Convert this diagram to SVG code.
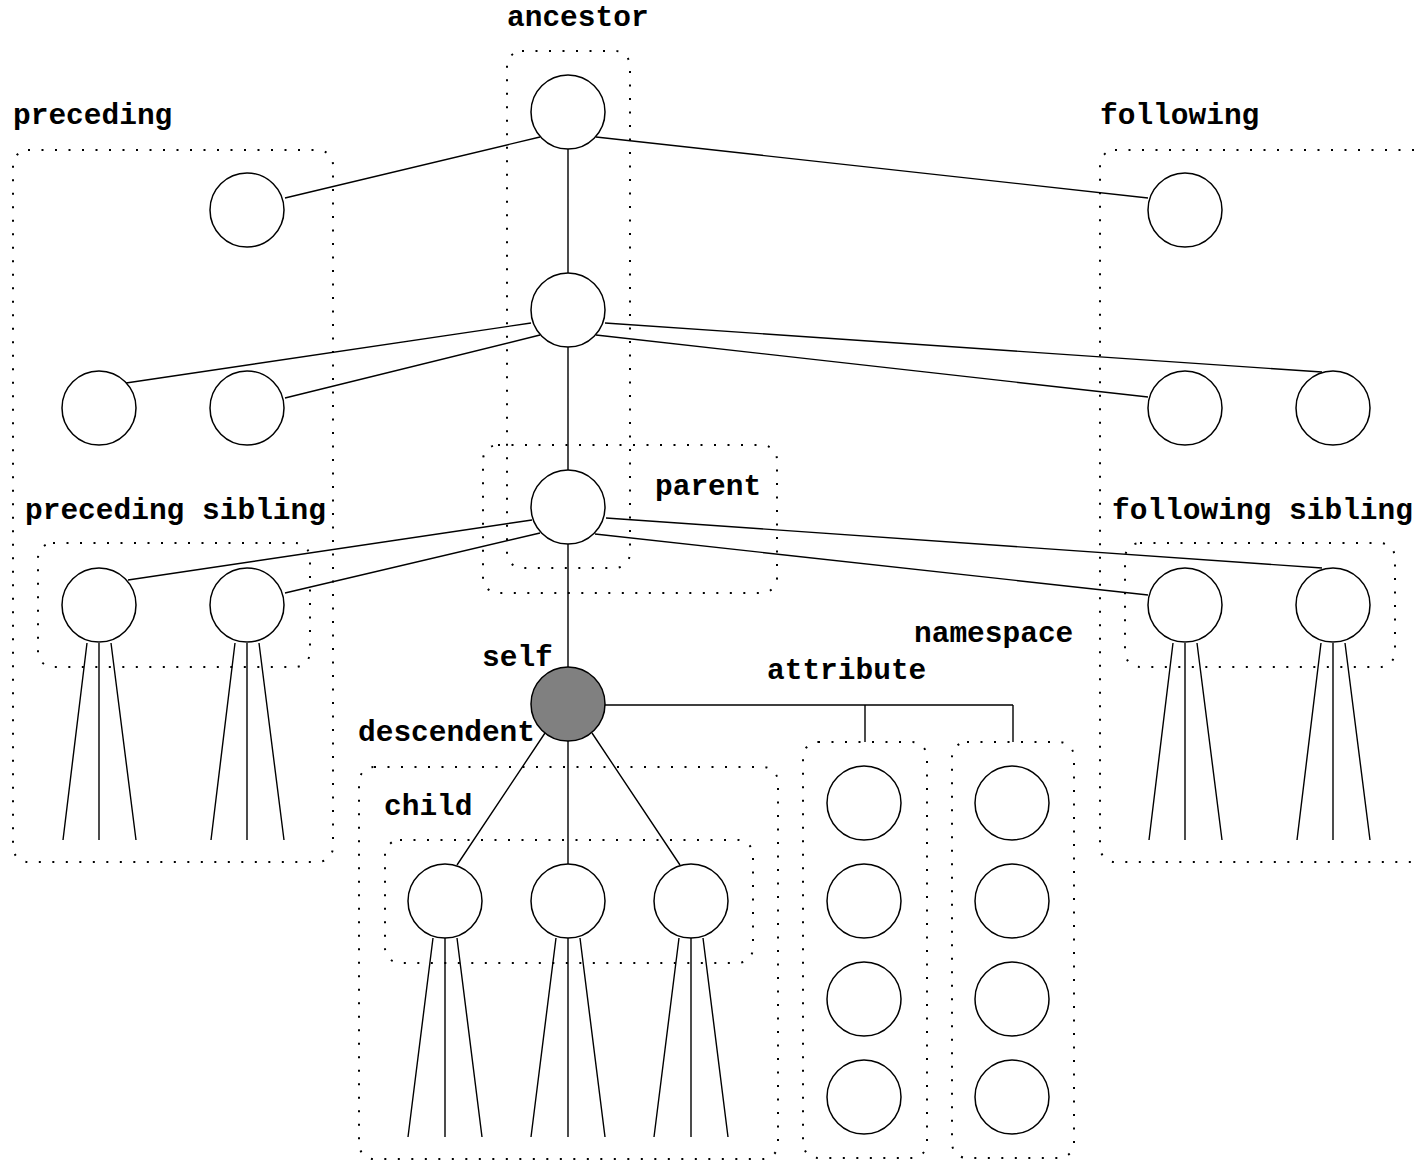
<svg xmlns="http://www.w3.org/2000/svg" width="1416" height="1161" viewBox="0 0 1416 1161">
<style>
.n{fill:#fff;stroke:#000;stroke-width:1.5}
.s{fill:#808080;stroke:#000;stroke-width:1.5}
.e{stroke:#000;stroke-width:1.4;fill:none}
.b{fill:none;stroke:#000;stroke-width:2;stroke-dasharray:2 11.5}
.t{font-family:"Liberation Mono","Courier New",monospace;font-weight:bold;font-size:29.5px;fill:#000}
</style>
<rect width="1416" height="1161" fill="#fff"/>
<g id="regions">
<rect id="box-ancestor" class="b" x="507" y="51" width="123" height="517" rx="15"/>
<rect id="box-preceding" class="b" x="13" y="150" width="320" height="712" rx="15"/>
<rect id="box-following" class="b" x="1100" y="150" width="340" height="712" rx="15"/>
<rect id="box-parent" class="b" x="483" y="445" width="294" height="148" rx="15"/>
<rect id="box-preceding-sibling" class="b" x="38" y="543" width="272" height="124" rx="15"/>
<rect id="box-following-sibling" class="b" x="1125" y="543" width="270" height="124" rx="15"/>
<rect id="box-descendent" class="b" x="359" y="767" width="419" height="392" rx="15"/>
<rect id="box-child" class="b" x="385" y="840" width="368" height="123" rx="15"/>
<rect id="box-attribute" class="b" x="803" y="742" width="124" height="416" rx="15"/>
<rect id="box-namespace" class="b" x="952" y="742" width="122" height="416" rx="15"/>
</g>
<g id="connectors">
<path class="e" d="M540 137L285 198M596 137L1148 198M568 149V273"/>
<path class="e" d="M531 323L126 383M540 335L285 398M596 335L1148 397M605 323L1322 372M568 347V470"/>
<path class="e" d="M532 520L128 580M540 533L285 593M606 518L1322 568M595 534L1148 595M568 544V667"/>
<path class="e" d="M545 733L457 865M568 741V864M592 733L680 865"/>
<path class="e" d="M605 705H1013M865 705V742M1013 705V742"/>
<path class="e" d="M87 643L63 840M99 643V840M111 643L136 840"/>
<path class="e" d="M235 643L211 840M247 643V840M259 643L284 840"/>
<path class="e" d="M1173 643L1149 840M1185 643V840M1197 643L1222 840"/>
<path class="e" d="M1321 643L1297 840M1333 643V840M1345 643L1370 840"/>
<path class="e" d="M433 938L408 1137M445 938V1137M457 938L482 1137"/>
<path class="e" d="M556 938L531 1137M568 938V1137M580 938L605 1137"/>
<path class="e" d="M679 938L654 1137M691 938V1137M703 938L728 1137"/>
</g>
<g id="node-root"><circle class="n" cx="568" cy="112" r="37"/></g>
<g id="node-prec-top"><circle class="n" cx="247" cy="210" r="37"/></g>
<g id="node-foll-top"><circle class="n" cx="1185" cy="210" r="37"/></g>
<g id="node-grandparent"><circle class="n" cx="568" cy="310" r="37"/></g>
<g id="node-prec-2a"><circle class="n" cx="99" cy="408" r="37"/></g>
<g id="node-prec-2b"><circle class="n" cx="247" cy="408" r="37"/></g>
<g id="node-foll-2a"><circle class="n" cx="1185" cy="408" r="37"/></g>
<g id="node-foll-2b"><circle class="n" cx="1333" cy="408" r="37"/></g>
<g id="node-parent"><circle class="n" cx="568" cy="507" r="37"/></g>
<g id="node-prec-sib-a"><circle class="n" cx="99" cy="605" r="37"/></g>
<g id="node-prec-sib-b"><circle class="n" cx="247" cy="605" r="37"/></g>
<g id="node-foll-sib-a"><circle class="n" cx="1185" cy="605" r="37"/></g>
<g id="node-foll-sib-b"><circle class="n" cx="1333" cy="605" r="37"/></g>
<g id="node-self"><circle class="s" cx="568" cy="704" r="37"/></g>
<g id="node-child-a"><circle class="n" cx="445" cy="901" r="37"/></g>
<g id="node-child-b"><circle class="n" cx="568" cy="901" r="37"/></g>
<g id="node-child-c"><circle class="n" cx="691" cy="901" r="37"/></g>
<g id="node-attr-1"><circle class="n" cx="864" cy="803" r="37"/></g>
<g id="node-attr-2"><circle class="n" cx="864" cy="901" r="37"/></g>
<g id="node-attr-3"><circle class="n" cx="864" cy="999" r="37"/></g>
<g id="node-attr-4"><circle class="n" cx="864" cy="1097" r="37"/></g>
<g id="node-ns-1"><circle class="n" cx="1012" cy="803" r="37"/></g>
<g id="node-ns-2"><circle class="n" cx="1012" cy="901" r="37"/></g>
<g id="node-ns-3"><circle class="n" cx="1012" cy="999" r="37"/></g>
<g id="node-ns-4"><circle class="n" cx="1012" cy="1097" r="37"/></g>
<g id="labels">
<text class="t" x="507" y="26">ancestor</text>
<text class="t" x="13" y="124">preceding</text>
<text class="t" x="1100" y="124">following</text>
<text class="t" x="655" y="495">parent</text>
<text class="t" x="25" y="519">preceding sibling</text>
<text class="t" x="1112" y="519">following sibling</text>
<text class="t" x="914" y="642">namespace</text>
<text class="t" x="482" y="666">self</text>
<text class="t" x="767" y="679">attribute</text>
<text class="t" x="358" y="741">descendent</text>
<text class="t" x="384" y="815">child</text>
</g>
</svg>
